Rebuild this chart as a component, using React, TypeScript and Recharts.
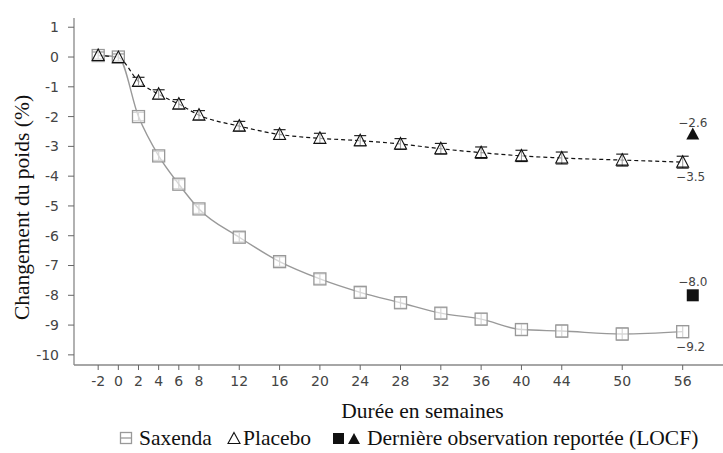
import React from 'react';
import { ComposedChart, Line, Scatter, XAxis, YAxis, ErrorBar, LabelList } from 'recharts';

const weeks = [-2, 0, 2, 4, 6, 8, 12, 16, 20, 24, 28, 32, 36, 40, 44, 50, 56];
const saxenda = [0.05, 0, -2.0, -3.32, -4.27, -5.1, -6.05, -6.87, -7.45, -7.9, -8.25, -8.6, -8.8, -9.15, -9.2, -9.3, -9.22];
const placebo = [0.05, -0.02, -0.82, -1.25, -1.58, -1.95, -2.32, -2.6, -2.73, -2.81, -2.92, -3.08, -3.21, -3.32, -3.39, -3.46, -3.53];
const saxendaErr = [0.12, 0.12, 0.14, 0.15, 0.15, 0.15, 0.16, 0.16, 0.17, 0.17, 0.18, 0.18, 0.19, 0.19, 0.2, 0.2, 0.2];
const placeboErr = [0.12, 0.12, 0.14, 0.15, 0.15, 0.15, 0.16, 0.16, 0.17, 0.17, 0.18, 0.18, 0.19, 0.19, 0.2, 0.2, 0.2];
const xTicks = [-2, 0, 2, 4, 6, 8, 12, 16, 20, 24, 28, 32, 36, 40, 44, 50, 56];
const yTicks = [-10, -9, -8, -7, -6, -5, -4, -3, -2, -1, 0, 1];
const locfWeek = 57;
const locfSaxenda = -8.0;
const locfPlacebo = -2.6;
const endLabelSaxenda = '−9.2';
const endLabelPlacebo = '−3.5';
const locfLabelSaxenda = '−8.0';
const locfLabelPlacebo = '−2.6';

const data = weeks.map((w, i) => ({
  week: w,
  saxenda: saxenda[i],
  placebo: placebo[i],
  saxErr: saxendaErr[i],
  plaErr: placeboErr[i],
  saxLabel: i === weeks.length - 1 ? endLabelSaxenda : '',
  plaLabel: i === weeks.length - 1 ? endLabelPlacebo : '',
}));
const locfSaxData = [{ week: locfWeek, value: locfSaxenda, label: locfLabelSaxenda }];
const locfPlaData = [{ week: locfWeek, value: locfPlacebo, label: locfLabelPlacebo }];

const SERIF = '"Liberation Serif", "DejaVu Serif", serif';
const SANS = '"DejaVu Sans", Verdana, sans-serif';

const SquareDot = (props: any) => {
  const { cx, cy } = props;
  if (cx == null || cy == null) return null;
  return <rect x={cx - 6} y={cy - 6} width={12} height={12} fill="#fff" fillOpacity={0.6} stroke="#999" strokeWidth={1.3} />;
};
const TriDot = (props: any) => {
  const { cx, cy } = props;
  if (cx == null || cy == null) return null;
  return <path d={`M${cx},${cy - 6.5} L${cx + 6},${cy + 5} L${cx - 6},${cy + 5} Z`} fill="#fff" fillOpacity={0.6} stroke="#111" strokeWidth={1.1} />;
};
const FilledSquare = (props: any) => {
  const { cx, cy } = props;
  return <rect x={cx - 6} y={cy - 6} width={12} height={12} fill="#111" />;
};
const FilledTri = (props: any) => {
  const { cx, cy } = props;
  return <path d={`M${cx},${cy - 7} L${cx + 6.5},${cy + 5} L${cx - 6.5},${cy + 5} Z`} fill="#111" />;
};

const Legend = () => (
  <div style={{ position: 'absolute', left: 0, top: 426, width: 723, fontFamily: SERIF, fontSize: 21.5, color: '#111', whiteSpace: 'nowrap', lineHeight: '24px' }}>
    <span style={{ position: 'absolute', left: 119, top: 0, display: 'flex', alignItems: 'center' }}>
      <svg width={16} height={16} style={{ marginRight: 4 }}>
        <rect x={1.5} y={2.5} width={11} height={11} fill="none" stroke="#999" strokeWidth={1.3} />
        <line x1={1.5} y1={8} x2={12.5} y2={8} stroke="#999" strokeWidth={1.3} />
      </svg>
      Saxenda
    </span>
    <span style={{ position: 'absolute', left: 227, top: 0, display: 'flex', alignItems: 'center' }}>
      <svg width={15} height={16} style={{ marginRight: 1 }}>
        <path d="M7,2.5 L13,13.5 L1,13.5 Z" fill="none" stroke="#111" strokeWidth={1.1} />
      </svg>
      Placebo
    </span>
    <span style={{ position: 'absolute', left: 332, top: 0, display: 'flex', alignItems: 'center' }}>
      <svg width={34} height={16} style={{ marginRight: 1 }}>
        <rect x={1} y={3} width={11} height={11} fill="#111" />
        <path d="M22,3 L28,14 L16,14 Z" fill="#111" />
      </svg>
      Dernière observation reportée (LOCF)
    </span>
  </div>
);

export default function App() {
  return (
    <div style={{ position: 'absolute', left: 0, top: 0, width: 723, height: 453, background: '#fff' }}>
      <ComposedChart width={723} height={453} data={data} margin={{ top: 18, right: 0, bottom: 0, left: 0 }}>
        <XAxis
          xAxisId="top"
          orientation="top"
          type="number"
          dataKey="week"
          domain={[-4.4, 60]}
          allowDataOverflow
          tick={false}
          tickLine={false}
          height={0}
          axisLine={{ stroke: '#888', strokeWidth: 1.3 }}
        />
        <XAxis
          type="number"
          dataKey="week"
          domain={[-4.4, 60]}
          allowDataOverflow
          ticks={xTicks}
          interval={0}
          height={88}
          tickSize={5}
          tickMargin={6}
          axisLine={{ stroke: '#888', strokeWidth: 1.3 }}
          tickLine={{ stroke: '#666' }}
          tick={{ fill: '#444', fontSize: 14, fontFamily: SANS }}
          label={(p: any) => {
            const vb = p.viewBox || {};
            return (
              <text x={vb.x + vb.width / 2 + 24} y={vb.y + 53} textAnchor="middle" fontFamily={SERIF} fontSize={21.5} fill="#111">
                Durée en semaines
              </text>
            );
          }}
        />
        <YAxis
          type="number"
          domain={[-10.34, 1.31]}
          allowDataOverflow
          ticks={yTicks}
          interval={0}
          width={74}
          tickSize={6}
          tickMargin={9}
          axisLine={{ stroke: '#888', strokeWidth: 1.3 }}
          tickLine={{ stroke: '#666' }}
          tick={{ fill: '#444', fontSize: 14, fontFamily: SANS }}
          label={(p: any) => {
            const vb = p.viewBox || {};
            const cx = 22;
            const cy = vb.y + vb.height / 2 + 16;
            return (
              <text x={cx} y={cy} transform={`rotate(-90 ${cx} ${cy})`} textAnchor="middle" dominantBaseline="central" fontFamily={SERIF} fontSize={21.5} fill="#111">
                Changement du poids (%)
              </text>
            );
          }}
        />
        <Line
          type="monotone"
          dataKey="saxenda"
          stroke="#999"
          strokeWidth={1.4}
          dot={<SquareDot />}
          activeDot={false}
          isAnimationActive={false}
        >
          <ErrorBar dataKey="saxErr" width={6} stroke="#999" strokeWidth={1.2} direction="y" />
          <LabelList dataKey="saxLabel" position="bottom" offset={11} dx={8} fill="#444" fontSize={12} fontFamily={SANS} />
        </Line>
        <Line
          type="monotone"
          dataKey="placebo"
          stroke="#111"
          strokeWidth={1.2}
          strokeDasharray="4 3"
          dot={<TriDot />}
          activeDot={false}
          isAnimationActive={false}
        >
          <ErrorBar dataKey="plaErr" width={6} stroke="#111" strokeWidth={1.1} direction="y" />
          <LabelList dataKey="plaLabel" position="bottom" offset={10} dx={8} fill="#444" fontSize={12} fontFamily={SANS} />
        </Line>
        <Scatter data={locfSaxData} dataKey="value" shape={<FilledSquare />} isAnimationActive={false}>
          <LabelList dataKey="label" position="top" offset={5} fill="#444" fontSize={12} fontFamily={SANS} />
        </Scatter>
        <Scatter data={locfPlaData} dataKey="value" shape={<FilledTri />} isAnimationActive={false}>
          <LabelList dataKey="label" position="top" offset={3} fill="#444" fontSize={12} fontFamily={SANS} />
        </Scatter>
      </ComposedChart>
      <Legend />
    </div>
  );
}
